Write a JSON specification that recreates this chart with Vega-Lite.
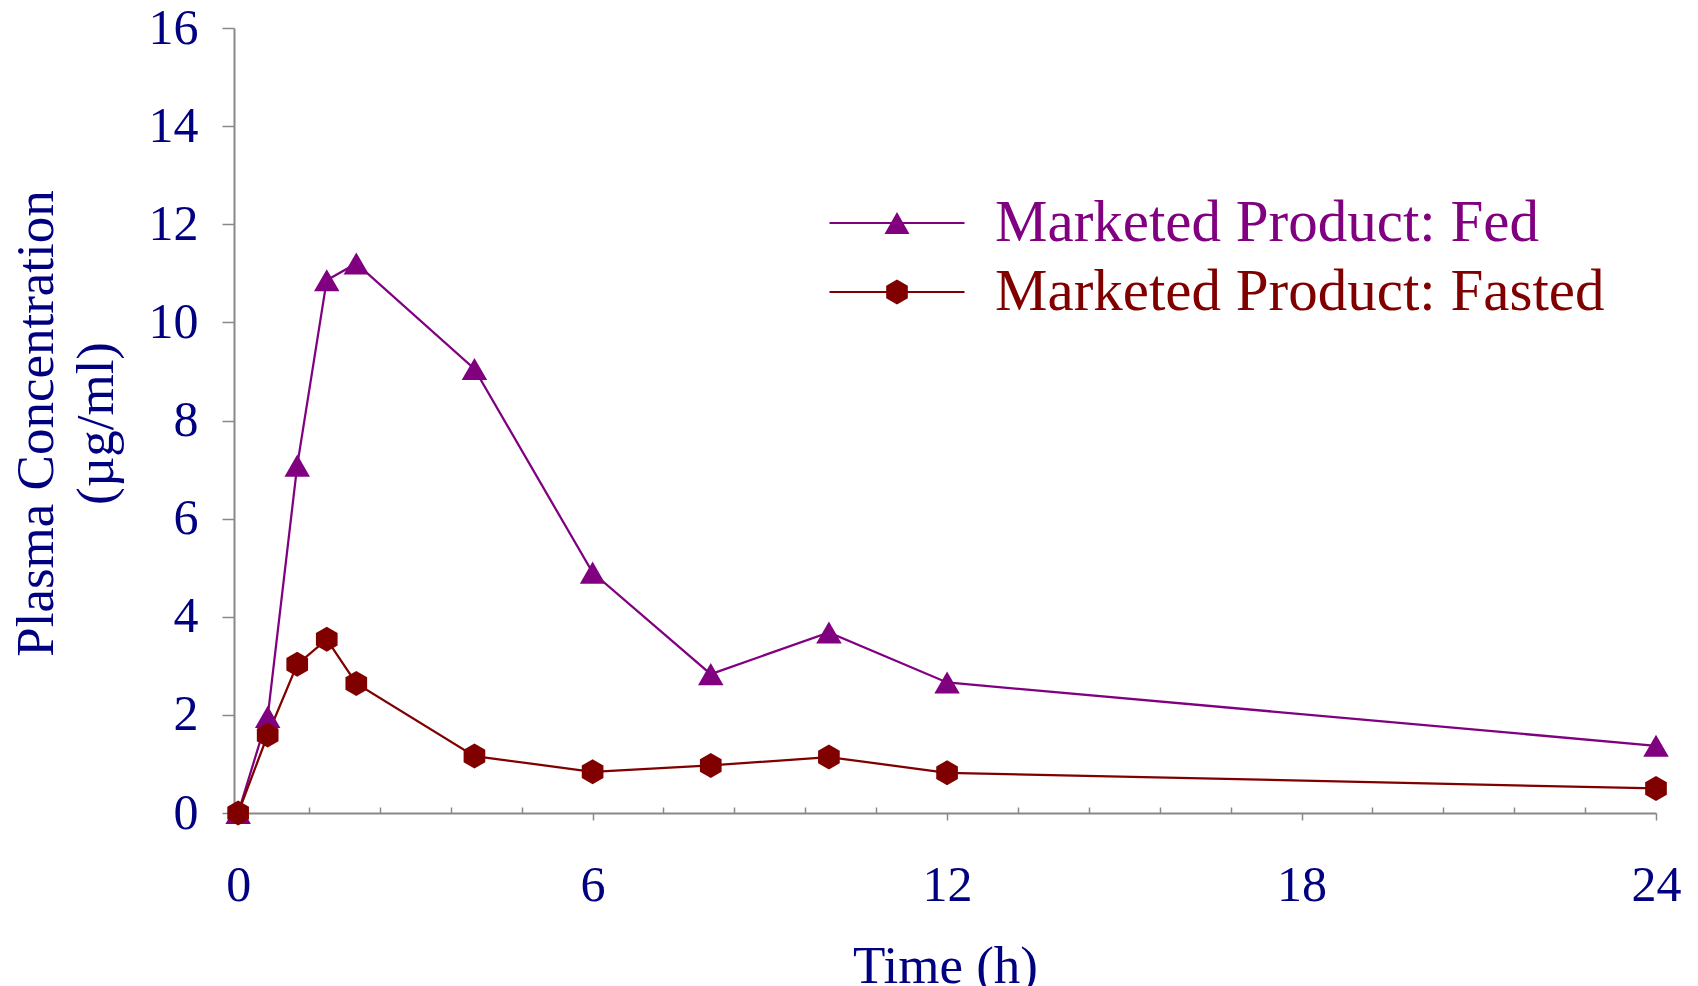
{
  "$schema": "https://vega.github.io/schema/vega-lite/v6.json",
  "width": 1422,
  "height": 785,
  "autosize": "none",
  "padding": {"left": 234, "top": 28, "right": 42, "bottom": 173},
  "background": "white",
  "config": {
    "view": {"stroke": null},
    "font": "Liberation Serif"
  },
  "data": {
    "values": [
      {"time": 0, "conc": 0, "group": "Marketed Product: Fed"},
      {"time": 0.5, "conc": 1.96, "group": "Marketed Product: Fed"},
      {"time": 1, "conc": 7.08, "group": "Marketed Product: Fed"},
      {"time": 1.5, "conc": 10.86, "group": "Marketed Product: Fed"},
      {"time": 2, "conc": 11.2, "group": "Marketed Product: Fed"},
      {"time": 4, "conc": 9.05, "group": "Marketed Product: Fed"},
      {"time": 6, "conc": 4.9, "group": "Marketed Product: Fed"},
      {"time": 8, "conc": 2.83, "group": "Marketed Product: Fed"},
      {"time": 10, "conc": 3.68, "group": "Marketed Product: Fed"},
      {"time": 12, "conc": 2.66, "group": "Marketed Product: Fed"},
      {"time": 24, "conc": 1.37, "group": "Marketed Product: Fed"},
      {"time": 0, "conc": 0, "group": "Marketed Product: Fasted"},
      {"time": 0.5, "conc": 1.59, "group": "Marketed Product: Fasted"},
      {"time": 1, "conc": 3.03, "group": "Marketed Product: Fasted"},
      {"time": 1.5, "conc": 3.54, "group": "Marketed Product: Fasted"},
      {"time": 2, "conc": 2.64, "group": "Marketed Product: Fasted"},
      {"time": 4, "conc": 1.16, "group": "Marketed Product: Fasted"},
      {"time": 6, "conc": 0.84, "group": "Marketed Product: Fasted"},
      {"time": 8, "conc": 0.97, "group": "Marketed Product: Fasted"},
      {"time": 10, "conc": 1.14, "group": "Marketed Product: Fasted"},
      {"time": 12, "conc": 0.82, "group": "Marketed Product: Fasted"},
      {"time": 24, "conc": 0.5, "group": "Marketed Product: Fasted"}
    ]
  },
  "encoding": {
    "y": {
      "field": "conc",
      "type": "quantitative",
      "scale": {"domain": [0, 16], "nice": false},
      "axis": {
        "values": [0, 2, 4, 6, 8, 10, 12, 14, 16],
        "grid": false,
        "tickSize": 12,
        "tickColor": "#888888",
        "tickWidth": 1.5,
        "domainColor": "#888888",
        "domainWidth": 2,
        "labelPadding": 24,
        "labelFont": "Liberation Serif",
        "labelFontSize": 50,
        "labelColor": "#000080",
        "title": ["Plasma Concentration", "(µg/ml)"],
        "titleFont": "Liberation Serif",
        "titleFontSize": 53,
        "titleFontWeight": "normal",
        "titleColor": "#000080",
        "titleLineHeight": 60,
        "titleAngle": 270,
        "titleBaseline": "top",
        "titleAlign": "center",
        "titleX": -224,
        "titleY": 395
      }
    },
    "color": {
      "field": "group",
      "type": "nominal",
      "scale": {
        "domain": ["Marketed Product: Fed", "Marketed Product: Fasted"],
        "range": ["#800080", "#800000"]
      },
      "legend": {
        "orient": "none",
        "legendX": 633,
        "legendY": 165,
        "title": null,
        "padding": 0,
        "symbolSize": 3600,
        "symbolStrokeWidth": 0,
        "symbolOpacity": 1,
        "labelFont": "Liberation Serif",
        "labelFontSize": 59,
        "labelOffset": 68,
        "labelLimit": 0,
        "rowPadding": 9,
        "encode": {
          "symbols": {
            "update": {
              "shape": {"signal": "datum.value === 'Marketed Product: Fed' ? 'M-2.25,-0.033H2.25V0.033H-2.25ZM0,-0.367L0.417,0.367L-0.417,0.367Z' : 'M-2.25,-0.033H2.25V0.033H-2.25ZM0,-0.417L0.36,-0.208L0.36,0.208L0,0.417L-0.36,0.208L-0.36,-0.208Z'"},
              "size": {"value": 3600},
              "fill": {"scale": "color", "field": "value"},
              "strokeWidth": {"value": 0},
              "opacity": {"value": 1},
              "fillOpacity": {"value": 1}
            }
          },
          "labels": {
            "update": {
              "fill": {"scale": "color", "field": "value"}
            }
          }
        }
      }
    }
  },
  "layer": [
    {
      "mark": {"type": "line", "strokeWidth": 2.25},
      "encoding": {
        "x": {
          "field": "time",
          "type": "quantitative",
          "scale": {"domain": [-0.07, 24], "nice": false, "zero": false},
          "axis": {
            "orient": "bottom",
            "values": [0, 6, 12, 18, 24],
            "grid": false,
            "tickSize": 7,
            "tickColor": "#888888",
            "tickWidth": 1.5,
            "domainColor": "#888888",
            "domainWidth": 2,
            "labelPadding": 80,
            "labelBaseline": "alphabetic",
            "labelFlush": false,
            "labelFont": "Liberation Serif",
            "labelFontSize": 50,
            "labelColor": "#000080",
            "title": "Time (h)",
            "titleFont": "Liberation Serif",
            "titleFontSize": 53,
            "titleFontWeight": "normal",
            "titleColor": "#000080",
            "titleBaseline": "alphabetic",
            "titleY": 169
          }
        }
      }
    },
    {
      "transform": [{"filter": "datum.group === 'Marketed Product: Fed'"}],
      "mark": {"type": "point", "shape": "triangle-up", "filled": true, "size": 650, "opacity": 1, "strokeWidth": 0},
      "encoding": {
        "x": {
          "field": "time",
          "type": "quantitative",
          "scale": {"domain": [-0.07, 24], "nice": false, "zero": false},
          "axis": {
            "orient": "bottom",
            "values": [1.2, 2.4, 3.6, 4.8, 7.2, 8.4, 9.6, 10.8, 13.2, 14.4, 15.6, 16.8, 19.2, 20.4, 21.6, 22.8],
            "grid": false,
            "domain": false,
            "labels": false,
            "tickSize": -6,
            "tickColor": "#888888",
            "tickWidth": 1.5,
            "title": null
          }
        }
      }
    },
    {
      "transform": [{"filter": "datum.group === 'Marketed Product: Fasted'"}],
      "mark": {"type": "point", "shape": "M0,-0.98L0.85,-0.49L0.85,0.49L0,0.98L-0.85,0.49L-0.85,-0.49Z", "filled": true, "size": 650, "opacity": 1, "strokeWidth": 0},
      "encoding": {
        "x": {
          "field": "time",
          "type": "quantitative",
          "scale": {"domain": [-0.07, 24], "nice": false, "zero": false},
          "axis": null
        }
      }
    }
  ],
  "resolve": {"axis": {"x": "independent"}}
}
